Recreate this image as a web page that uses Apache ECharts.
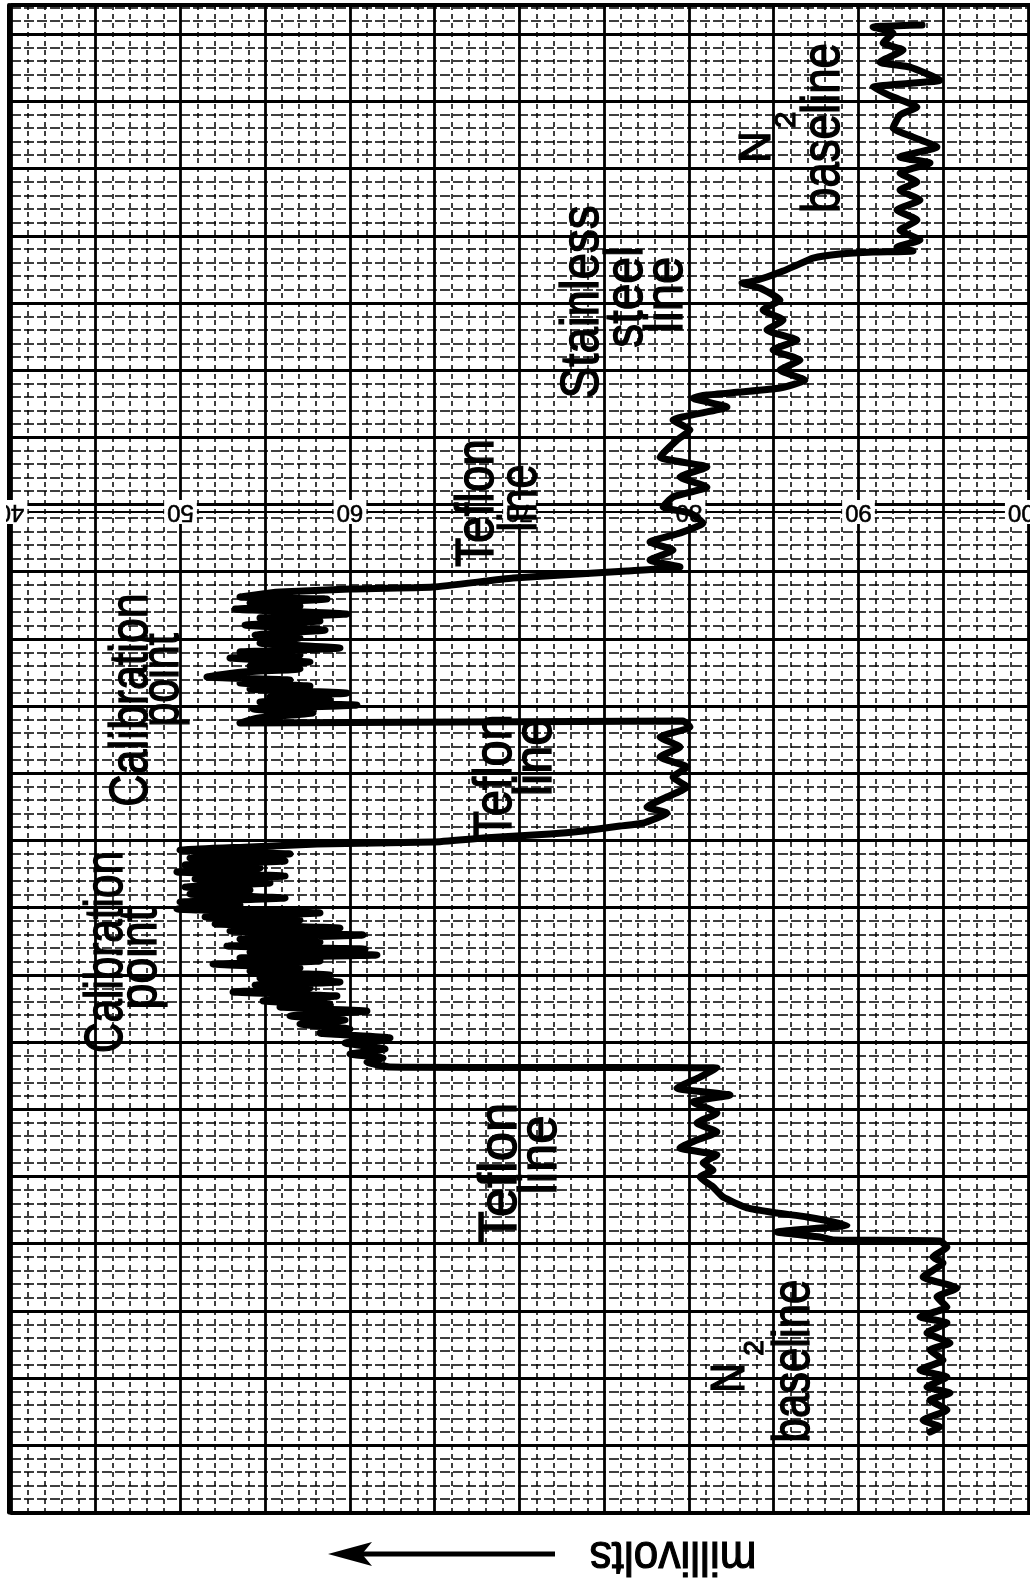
<!DOCTYPE html>
<html><head><meta charset="utf-8">
<script src="https://cdn.jsdelivr.net/npm/echarts@6/dist/echarts.min.js"></script>
<style>html,body{margin:0;padding:0;background:#fff}#c{width:1030px;height:1582px}</style>
</head><body><div id="c"></div>
<script>
// Recorder trace: pen position (millivolts) against chart travel (grid divisions from the bottom edge)
const n2FirstMv = [93.75,90.86,92.04,91.45,92.63,91.27,93.04,94.81,90.86,92.04,93.45,92.45,92.04,93.22,94.63,92.45,94.22,92.45,93.45,92.45,
 93.63,92.27,93.45,92.45,93.63,92.27,93.22,90.86,88.91,87.32,86.37,85.55,84.60,83.60,83.13];
const n2FirstT = [110.68,110.53,110.08,109.34,108.82,107.92,107.55,106.58,106.06,105.32,104.58,103.98,103.01,102.34,101.60,100.86,100.41,99.67,99.00,98.40,
 97.66,96.91,96.17,95.42,94.68,94.16,93.86,93.79,93.64,93.34,92.82,92.37,91.93,91.56,91.48];
const stainlessMv = [84.19,85.37,84.37,85.55,84.60,86.37,84.96,86.55,85.37,86.84,85.37,83.01,81.06,80.24];
const stainlessT = [91.11,90.22,89.47,88.73,87.98,87.24,86.50,85.75,85.01,84.26,83.67,83.37,83.15,82.92];
const teflon3Mv = [82.24,79.06,80.06,79.29,78.29,81.06,79.47,81.06,79.06,78.47,80.06,80.83,79.47,77.70,79.06,77.70,79.47,
 76.34,69.62,64.90,60.00,55.87];
const teflon3T = [82.25,81.29,80.54,79.80,78.53,77.79,77.05,76.30,75.56,74.81,74.37,73.62,72.88,72.21,71.61,70.87,70.35,
 70.05,69.53,68.86,68.71,68.49];
const calib2Mv = [55.28,53.51,58.64,54.10,57.05,53.22,59.82,54.69,58.23,53.81,58.53,54.40,57.05,54.69,59.41,53.51,57.05,52.92,57.64,54.10,
 57.05,53.69,51.56,56.46,53.51,57.64,54.10,59.82,55.28,58.82,54.69,60.41,54.28,57.82,54.51,53.51,79.65];
const calib2T = [68.42,68.12,67.97,67.67,67.45,67.22,66.85,66.56,66.33,66.03,65.66,65.29,65.07,64.70,64.32,64.03,63.80,63.58,63.28,62.98,
 62.76,62.54,62.17,61.94,61.72,61.50,61.27,60.97,60.68,60.45,60.31,60.08,59.78,59.49,59.11,58.74,58.89];
const teflon2Mv = [80.06,78.29,79.47,78.29,79.88,79.06,79.88,78.70,77.52,78.70,77.29,75.93,73.75,71.80,67.85,64.90,58.05,54.10,49.97];
const teflon2T = [58.44,57.70,56.96,56.21,55.47,54.72,53.98,53.24,52.49,52.05,51.30,51.08,50.71,50.48,50.19,49.89,49.74,49.52,49.29];
const calib1Mv = [56.46,50.56,56.17,50.27,54.69,49.79,56.17,50.86,55.28,50.27,54.10,50.56,56.17,49.97,53.51,49.79,58.23,51.45,57.05,52.04,
 59.41,52.92,60.77,53.51,58.23,52.74,60.89,54.10,61.59,53.51,58.23,51.92,57.05,54.10,58.82,54.69,59.41,54.40,57.64,53.10,
 59.23,54.87,58.82,55.87,61.00,56.46,59.71,57.05,60.00,58.23,62.36,59.71,62.07,60.00,61.95,61.00,62.36];
const calib1T = [49.00,48.70,48.47,48.18,47.95,47.66,47.36,47.14,46.84,46.54,46.32,46.02,45.72,45.42,45.20,44.90,44.61,44.31,44.08,43.79,
 43.49,43.27,42.97,42.67,42.45,42.15,41.93,41.70,41.48,41.26,41.03,40.81,40.51,40.29,39.99,39.77,39.47,39.25,39.03,38.73,
 38.43,38.06,37.83,37.61,37.31,36.94,36.64,36.35,35.97,35.68,35.31,34.93,34.49,34.11,33.82,33.52,33.15];
const teflon1Mv = [81.65,80.65,79.29,82.42,80.24,81.65,80.47,81.65,80.47,79.47,81.65,80.83,81.42,80.65,81.42,82.01,83.42,85.19,86.96,89.32,
 85.19,87.73,88.50,94.81];
const teflon1T = [33.07,32.40,31.58,31.06,30.54,29.72,28.98,28.31,27.72,27.12,26.60,26.00,25.48,24.96,24.22,23.47,22.66,22.28,21.99,21.39,
 20.87,20.50,20.28,20.20];
const n2LastMv = [95.22,94.40,94.99,93.81,95.81,94.63,95.22,93.63,95.22,94.04,95.40,94.22,94.99,93.63,95.22,94.04,95.40,94.22,95.22,93.81,
 94.81,94.22];
const n2LastT = [19.75,19.01,18.56,17.52,16.70,16.03,15.29,14.55,14.10,13.36,12.61,12.09,11.35,10.60,10.08,9.34,8.89,8.37,7.63,6.88,
 6.36,5.99];
const tickValues = [40, 50, 60, 70, 80, 90, 100];
const tickLabels = ['40', '50', '60', '70', '80', '90', '100'];

const millivolts = [].concat(n2FirstMv, stainlessMv, teflon3Mv, calib2Mv, teflon2Mv, calib1Mv, teflon1Mv, n2LastMv);
const travel = [].concat(n2FirstT, stainlessT, teflon3T, calib2T, teflon2T, calib1T, teflon1T, n2LastT);

const chart = echarts.init(document.getElementById('c'), null, {renderer: 'canvas'});
const FONT = '"Liberation Sans", Arial, Helvetica, sans-serif';
const X_MIN = 40, X_MAX = 100.12, Y_MIN = 0, Y_MAX = 112.17;
const R = Math.PI / 2;

function txt(t, x, y, size, rot, sx, sy) {
  return {
    type: 'text', x: x, y: y, rotation: rot, scaleX: sx, scaleY: sy == null ? 1.12 : sy, z: 100,
    style: {text: t, fill: '#000', stroke: '#000', lineWidth: 1.2, fontSize: size, fontFamily: FONT,
            align: 'center', verticalAlign: 'middle'}
  };
}
const graphics = [
  {type: 'rect', shape: {x: 0, y: 0, width: 6, height: 1582}, style: {fill: '#fff'}, z: 99},
  txt('Calibration', 107, 952, 48, R, 0.88), txt('point', 141, 959, 48, R, 0.97),
  txt('Calibration', 132, 700, 48, R, 0.93), txt('point', 163, 680, 48, R, 0.9),
  txt('Teflon', 501, 1173, 48, R, 1.1), txt('line', 541, 1155, 48, R, 1.06),
  txt('Teflon', 496, 777, 48, R, 0.98), txt('line', 536, 757, 48, R, 1.05),
  txt('Teflon', 478, 503, 48, R, 1.0), txt('line', 521, 498, 48, R, 0.9),
  txt('Stainless', 583, 302, 48, R, 0.99), txt('steel', 627, 297, 48, R, 1.0), txt('line', 667, 295, 48, R, 1.02),
  txt('N', 758, 147, 44, R, 1, 1), txt('2', 787, 120, 30, R, 1, 1), txt('baseline', 824, 128, 48, R, 0.95),
  txt('N', 731, 1378, 48, R, 0.85, 1), txt('2', 755, 1348, 28, R, 1, 1), txt('baseline', 795, 1361, 46, R, 0.95),
  txt('millivolts', 673, 1555, 48, Math.PI, 0.92, 1),
  {type: 'line', shape: {x1: 360, y1: 1554, x2: 555, y2: 1554}, style: {stroke: '#000', lineWidth: 5}, z: 100},
  {type: 'polygon', shape: {points: [[328, 1554], [372, 1542], [362, 1554], [372, 1566]]}, style: {fill: '#000'}, z: 100}
];

const majorLine = {show: true, lineStyle: {color: '#000', width: 2.8}};
chart.setOption({
  animation: false,
  backgroundColor: '#fff',
  grid: {left: 11, right: 0, top: 5, bottom: 69.5, containLabel: false, outerBoundsMode: 'none'},
  xAxis: [
    {type: 'value', min: X_MIN, max: X_MAX, interval: 5, position: 'bottom',
     axisLine: {show: true, lineStyle: {color: '#000', width: 4}}, axisTick: {show: false}, axisLabel: {show: false},
     splitLine: majorLine,
     minorTick: {show: false, splitNumber: 5},
     minorSplitLine: {show: true, lineStyle: {color: '#000', width: 1.5, type: [5, 4]}}},
    {type: 'value', min: X_MIN, max: X_MAX, interval: 10, position: 'bottom', offset: -1000.5,
     axisLine: {show: true, lineStyle: {color: '#000', width: 2}}, axisTick: {show: false},
     splitLine: {show: false},
     axisLabel: {show: true, rotate: 180, margin: 0, align: 'center', verticalAlign: 'middle',
       fontSize: 24, fontFamily: FONT, color: '#000', backgroundColor: '#fff', padding: [0, 3],
       textBorderColor: '#000', textBorderWidth: 0.6,
       formatter: function (v) { const i = tickValues.indexOf(Math.round(v)); return i >= 0 ? tickLabels[i] : ''; }}},
    {type: 'value', min: X_MIN, max: X_MAX, position: 'top',
     axisLine: {show: true, lineStyle: {color: '#000', width: 4}}, axisTick: {show: false}, axisLabel: {show: false},
     splitLine: {show: false}}
  ],
  yAxis: {type: 'value', min: Y_MIN, max: Y_MAX, interval: 5, position: 'left', offset: 2,
    axisLine: {show: true, lineStyle: {color: '#000', width: 4}}, axisTick: {show: false}, axisLabel: {show: false},
    splitLine: majorLine,
    minorTick: {show: false, splitNumber: 5},
    minorSplitLine: {show: true, lineStyle: {color: '#000', width: 1.6, type: [10, 3]}}},
  series: [{
    type: 'line', xAxisIndex: 0, yAxisIndex: 0, showSymbol: false, smooth: 0.15, z: 5,
    data: millivolts.map(function (v, i) { return [v, travel[i]]; }),
    lineStyle: {color: '#000', width: 7, join: 'round', cap: 'round'}
  }],
  graphic: graphics
});
</script></body></html>
